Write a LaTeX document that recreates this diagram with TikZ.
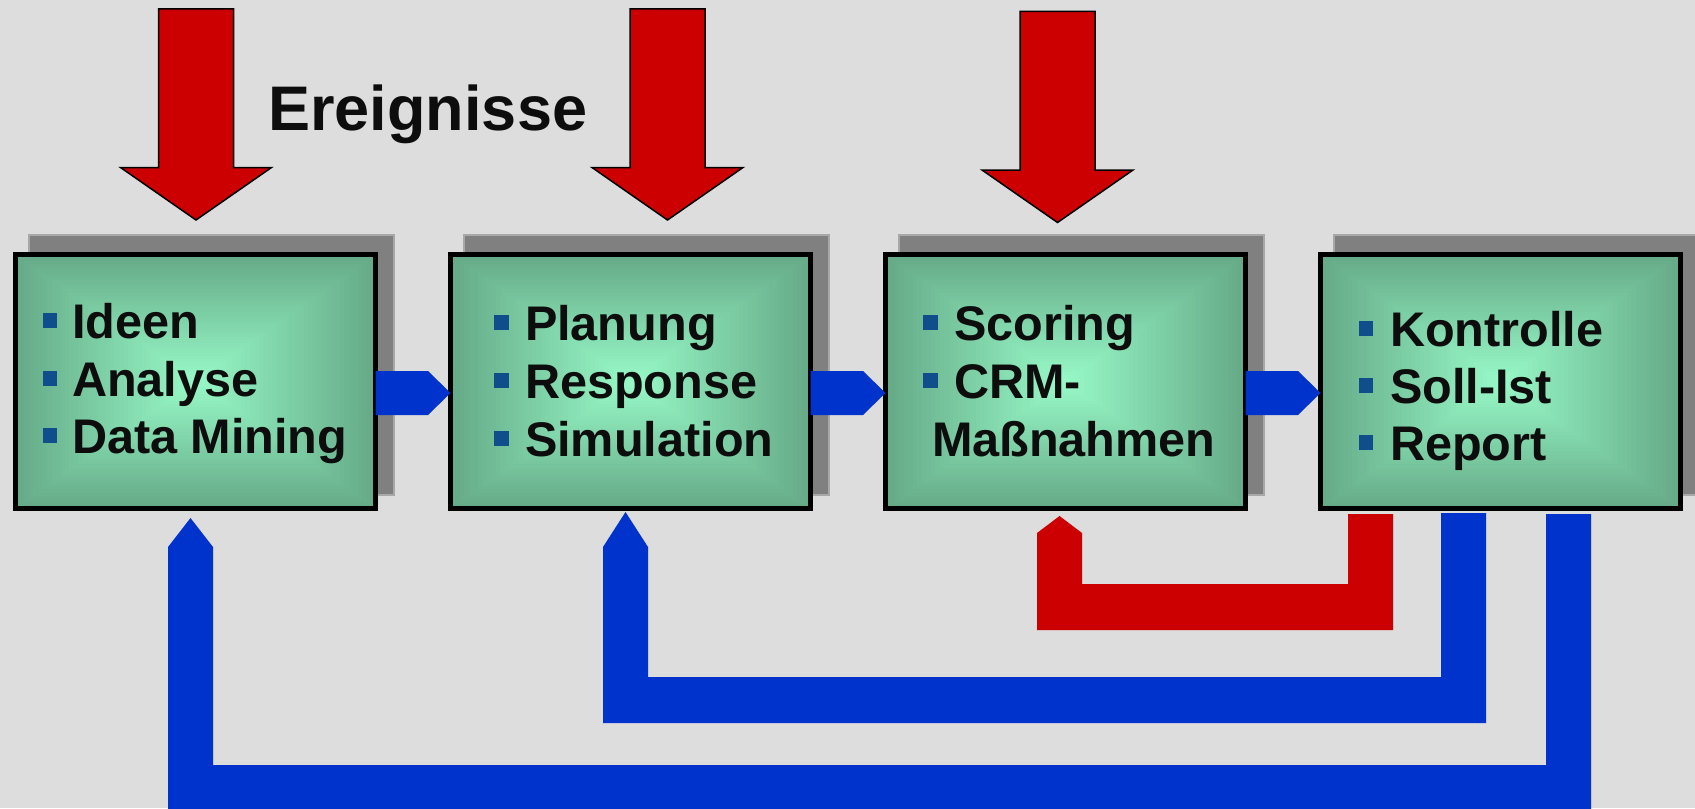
\documentclass[tikz,border=0pt]{standalone}
\usepackage{fontspec}
\setmainfont{Liberation Sans}
\usetikzlibrary{calc}
\pgfdeclarelayer{bglayer}
\pgfdeclarelayer{shadowlayer}
\pgfsetlayers{bglayer,shadowlayer,main}
\definecolor{bgc}{RGB}{221,221,221}
\definecolor{edgeg}{RGB}{102,170,136}
\definecolor{mintc}{RGB}{152,250,200}
\definecolor{redc}{RGB}{204,0,0}
\definecolor{bluec}{RGB}{0,51,204}
\definecolor{bulc}{RGB}{16,78,139}
\definecolor{shadowc}{RGB}{128,128,128}
\definecolor{shadowl}{RGB}{168,168,168}
\definecolor{txtc}{RGB}{13,13,13}
\tikzset{
  box/.style={minimum width=180pt, minimum height=127pt,
    inner sep=0pt, outer sep=0pt,
    path picture={
      \foreach \i in {0,...,40}{
        \pgfmathsetmacro{\gradT}{1-\i/40}
        \pgfmathtruncatemacro{\gradP}{2.5*\i}
        \fill[mintc!\gradP!edgeg]
          ($(path picture bounding box.center)!\gradT!(path picture bounding box.north east)$)
          rectangle
          ($(path picture bounding box.center)!\gradT!(path picture bounding box.south west)$);
      }
    },
    postaction={draw=black, line width=2.6pt}},
  shadowbox/.style={fill=shadowc, draw=shadowl, line width=1pt},
  itm/.style={anchor=base west, inner sep=0pt, outer sep=0pt,
    font=\fontsize{24.3}{28}\selectfont\bfseries, text=txtc},
  bul/.style={fill=bulc, minimum size=7.25pt, inner sep=0pt, outer sep=0pt},
  evarrow/.style={fill=redc, draw=black, line width=0.75pt, line join=miter},
  bluearrow/.style={fill=bluec},
  redloop/.style={fill=redc},
}
\begin{document}
\begin{tikzpicture}[x=0.5pt,y=-0.5pt]
\begin{pgfonlayer}{bglayer}
  \fill[bgc] (0,0) rectangle (1695,808);
\end{pgfonlayer}
\useasboundingbox (0,0) rectangle (1695,808);

% process boxes
\node[box] (b1) at (195.5,381.5) {};
\node[box] (b2) at (630.5,381.5) {};
\node[box] (b3) at (1065.5,381.5) {};
\node[box] (b4) at (1500.5,381.5) {};

% shadows
\begin{pgfonlayer}{shadowlayer}
  \foreach \b in {b1,b2,b3,b4}
    \filldraw[shadowbox] ($(\b.north west)+(13.5,-19.5)$) rectangle ($(\b.south east)+(18.5,-13.5)$);
\end{pgfonlayer}

% box texts
\node[itm] (t11) at (72,338) {Ideen};
\node[itm] (t12) at (72,396) {Analyse};
\node[itm] (t13) at (72,453) {Data Mining};
\node[bul] (p11) at (50,320.5) {};
\node[bul] (p12) at (50,378.5) {};
\node[bul] (p13) at (50,435.5) {};

\node[itm] (t21) at (525,340) {Planung};
\node[itm] (t22) at (525,398) {Response};
\node[itm] (t23) at (525,456) {Simulation};
\node[bul] (p21) at (501.5,322.5) {};
\node[bul] (p22) at (501.5,380.5) {};
\node[bul] (p23) at (501.5,438.5) {};

\node[itm] (t31) at (954,340) {Scoring};
\node[itm] (t32) at (954,398) {CRM-};
\node[itm] (t33) at (932,456) {Maßnahmen};
\node[bul] (p31) at (930.5,322.5) {};
\node[bul] (p32) at (930.5,380.5) {};

\node[itm] (t41) at (1390,346) {Kontrolle};
\node[itm] (t42) at (1390,403) {Soll-Ist};
\node[itm] (t43) at (1390,460) {Report};
\node[bul] (p41) at (1366,328.5) {};
\node[bul] (p42) at (1366,385.5) {};
\node[bul] (p43) at (1366,442.5) {};

% title
\node[anchor=base west, inner sep=0pt, font=\fontsize{31.5}{36}\selectfont\bfseries, text=txtc]
  (ev) at (268,130) {Ereignisse};

% event arrows
\coordinate (e1) at ($(b1.north)+(0.5,-34.5)$);
\coordinate (e2) at ($(b2.north)+(37,-34.5)$);
\coordinate (e3) at ($(b3.north)+(-8,-32)$);
\foreach \e in {e1,e2,e3}
  \draw[evarrow] (\e) -- ($(\e)+(-75.5,-52.5)$) -- ($(\e)+(-37.5,-52.5)$)
    -- ($(\e)+(-37.5,-211)$) -- ($(\e)+(37.5,-211)$) -- ($(\e)+(37.5,-52.5)$)
    -- ($(\e)+(75.5,-52.5)$) -- cycle;

% forward arrows between boxes
\foreach \a/\b in {b1/b2,b2/b3,b3/b4}
  \fill[bluearrow] ($(\a.east)+(0,-10.5)$) -- ($(\a.east)+(52.5,-10.5)$)
    -- ($(\b.west)+(0,11.5)$) -- ($(\a.east)+(52.5,33.5)$) -- ($(\a.east)+(0,33.5)$) -- cycle;

% feedback: red from box 4 to box 3
\coordinate (rs) at ($(b4.south west)+(27.5,5.5)$);
\coordinate (rt) at ($(b3.south)+(-6,7.5)$);
\fill[redloop] (rs) -- ($(rs)+(45,0)$) -- ($(rs)+(45,116)$) -- ($(rt)+(-22.5,114)$)
  -- ($(rt)+(-22.5,17)$) -- (rt) -- ($(rt)+(22.5,17)$) -- ($(rt)+(22.5,68)$)
  -- ($(rs)+(0,70)$) -- cycle;

% feedback: blue from box 4 to box 2
\coordinate (bs) at ($(b4.south west)+(120.5,4.5)$);
\coordinate (bt) at ($(b2.south)+(-5,3.5)$);
\fill[bluearrow] (bs) -- ($(bs)+(45,0)$) -- ($(bs)+(45,210)$) -- ($(bt)+(-22.5,211)$)
  -- ($(bt)+(-22.5,35)$) -- (bt) -- ($(bt)+(22.5,35)$) -- ($(bt)+(22.5,165)$)
  -- ($(bs)+(0,164)$) -- cycle;

% feedback: blue from box 4 to box 1
\coordinate (cs) at ($(b4.south west)+(225.5,5.5)$);
\coordinate (ct) at ($(b1.south)+(-5,9.5)$);
\fill[bluearrow] (cs) -- ($(cs)+(45,0)$) -- ($(cs)+(45,298)$) -- ($(ct)+(-22.5,294)$)
  -- ($(ct)+(-22.5,29)$) -- (ct) -- ($(ct)+(22.5,29)$) -- ($(ct)+(22.5,247)$)
  -- ($(cs)+(0,251)$) -- cycle;
\end{tikzpicture}
\end{document}
